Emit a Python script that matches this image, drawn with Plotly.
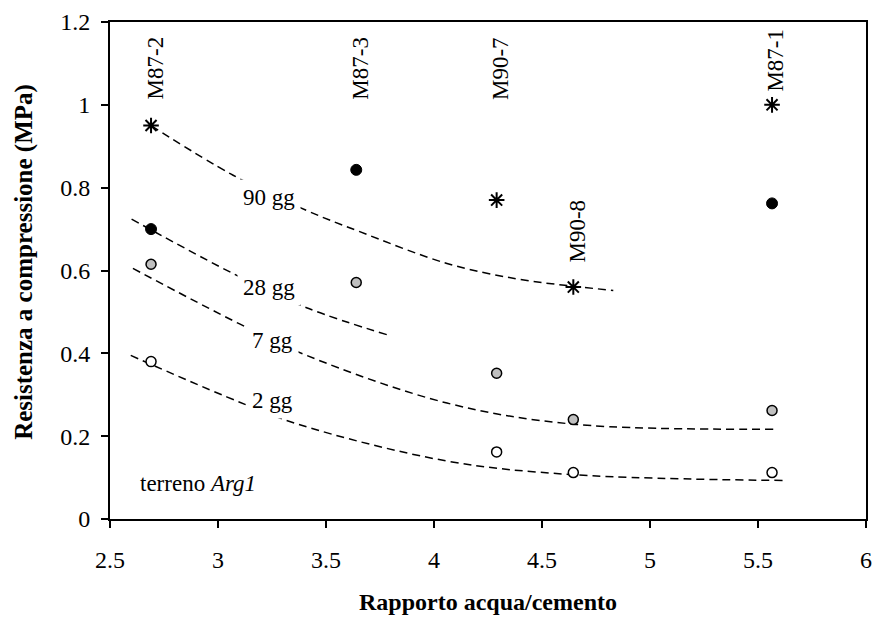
import plotly.graph_objects as go

# ---- data ----
sample_x = [2.69, 3.64, 4.29, 4.645, 5.565]
sample_names = ["M87-2", "M87-3", "M90-7", "M90-8", "M87-1"]
r90 = [0.95, None, 0.77, 0.56, 1.0]
r28 = [0.70, 0.843, None, None, 0.762]
r7 = [0.615, 0.571, 0.352, 0.24, 0.262]
r2 = [0.38, None, 0.162, 0.112, 0.112]

# trend curves
t90_x = [2.69, 3.07, 3.41, 3.65, 4.06, 4.38, 4.645, 4.83]
t90_y = [0.95, 0.83, 0.745, 0.695, 0.617, 0.58, 0.562, 0.552]
t28_x = [2.60, 3.08, 3.41, 3.795]
t28_y = [0.724, 0.59, 0.51, 0.443]
t7_x = [2.606, 3.10, 3.41, 4.06, 4.645, 5.58]
t7_y = [0.605, 0.471, 0.395, 0.28, 0.229, 0.217]
t2_x = [2.596, 3.04, 3.37, 4.06, 4.645, 5.62]
t2_y = [0.395, 0.295, 0.229, 0.14, 0.107, 0.093]

curve_labels = ["90 gg", "28 gg", "7 gg", "2 gg"]
curve_label_x = [3.235, 3.235, 3.25, 3.25]
curve_label_y = [0.776, 0.56, 0.43, 0.286]

sample_label_y = [1.007, 1.007, 1.007, 0.614, 1.026]

x_ticks = [2.5, 3, 3.5, 4, 4.5, 5, 5.5, 6]
y_ticks = [0, 0.2, 0.4, 0.6, 0.8, 1, 1.2]

FONT = "Liberation Serif, Times New Roman, serif"
DASH = "8px,5px"

fig = go.Figure()
for tx, ty in [(t90_x, t90_y), (t28_x, t28_y), (t7_x, t7_y), (t2_x, t2_y)]:
    fig.add_trace(go.Scatter(x=tx, y=ty, mode="lines", line=dict(color="black", width=1.5, dash=DASH, shape="spline", smoothing=1.0),
                             showlegend=False, hoverinfo="skip"))

fig.add_trace(go.Scatter(x=sample_x, y=r2, mode="markers",
                         marker=dict(symbol="circle", size=10, color="white", line=dict(color="black", width=1.5)), showlegend=False))
fig.add_trace(go.Scatter(x=sample_x, y=r7, mode="markers",
                         marker=dict(symbol="circle", size=10, color="#c0c0c0", line=dict(color="black", width=1.5)), showlegend=False))
fig.add_trace(go.Scatter(x=sample_x, y=r28, mode="markers",
                         marker=dict(symbol="circle", size=11, color="black", line=dict(color="black", width=1)), showlegend=False))
fig.add_trace(go.Scatter(x=sample_x, y=r90, mode="markers",
                         marker=dict(symbol="asterisk-open", size=13, color="black", line=dict(color="black", width=2)), showlegend=False))

for t, x, y in zip(curve_labels, curve_label_x, curve_label_y):
    fig.add_annotation(x=x, y=y, text=t, showarrow=False, font=dict(family=FONT, size=23, color="black"),
                       bgcolor="white", borderpad=5, xanchor="center", yanchor="middle")

for t, x, y in zip(sample_names, sample_x, sample_label_y):
    fig.add_annotation(x=x, y=y, text=t, showarrow=False, textangle=-90, xshift=4,
                       font=dict(family=FONT, size=23, color="black"), xanchor="center", yanchor="bottom")

fig.add_annotation(x=2.63, y=0.085, text="terreno <i>Arg1</i>", showarrow=False, xanchor="left", yanchor="middle",
                   font=dict(family=FONT, size=23, color="black"))

# y-axis title (placed as paper annotation to match position)
fig.add_annotation(xref="paper", yref="paper", x=-0.114, y=0.517, text="<b>Resistenza a compressione (MPa)</b>",
                   textangle=-90, showarrow=False, xanchor="center", yanchor="middle",
                   font=dict(family=FONT, size=25, color="black"))

axis_common = dict(showgrid=False, zeroline=False, showline=True, linecolor="black", linewidth=2, mirror=True,
                   ticks="outside", ticklen=7, tickwidth=1.5, tickcolor="black",
                   tickfont=dict(family=FONT, size=24, color="black"))

fig.update_xaxes(range=[2.5, 6], tickvals=x_ticks, ticktext=[f"{v:g}" for v in x_ticks], ticklabelstandoff=11,
                 title=dict(text="<b>Rapporto acqua/cemento</b>", font=dict(family=FONT, size=24, color="black"), standoff=21),
                 **axis_common)
fig.update_yaxes(range=[0, 1.2], tickvals=y_ticks, ticktext=[f"{v:g}" for v in y_ticks], ticklabelstandoff=6,
                 **axis_common)

fig.update_layout(width=881, height=620, margin=dict(l=110, r=9, t=20, b=97),
                  plot_bgcolor="white", paper_bgcolor="white", showlegend=False)

fig.write_html("out.html")
